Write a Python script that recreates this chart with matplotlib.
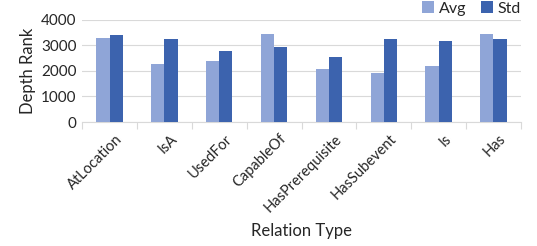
import matplotlib.pyplot as plt
import numpy as np

# Data
relations = ['AtLocation', 'IsA', 'UsedFor', 'CapableOf', 'HasPrerequisite',
             'HasSubevent', 'Is', 'Has']
avg = [3280, 2290, 2395, 3440, 2080, 1910, 2210, 3440]
std = [3400, 3240, 2770, 2955, 2550, 3240, 3175, 3240]

plt.rcParams['font.family'] = ['Lato', 'DejaVu Sans']

fig = plt.figure(figsize=(5.37, 2.46), dpi=100)
ax = fig.add_axes([0.153, 0.504, 0.817, 0.415])

x = np.arange(len(relations))
w = 0.24
ax.bar(x - w / 2, avg, w, color='#8FA5D7', label='Avg', zorder=3)
ax.bar(x + w / 2, std, w, color='#3C63AE', label='Std', zorder=3)

ax.set_xlim(-0.5, len(relations) - 0.5)
ax.set_ylim(0, 4000)
ax.set_yticks([0, 1000, 2000, 3000, 4000])
ax.tick_params(axis='y', length=0, labelsize=11, colors='#262626', pad=4)
ax.yaxis.grid(True, color='#d9d9d9', linewidth=0.8, zorder=0)

# category labels, tick marks between categories
ax.set_xticks(x + 0.1)
ax.set_xticklabels(relations, rotation=45, ha='right', rotation_mode='anchor',
                   fontsize=10.5, color='#262626')
ax.tick_params(axis='x', which='major', length=0, pad=7)
ax.set_xticks(np.arange(-0.5, len(relations)), minor=True)
ax.tick_params(axis='x', which='minor', length=5, color='#d9d9d9', width=0.8)

for s in ['top', 'right', 'left']:
    ax.spines[s].set_visible(False)
ax.spines['bottom'].set_color('#d9d9d9')

ax.set_ylabel('Depth Rank', fontsize=12, color='#262626', labelpad=4)
ax.set_xlabel('Relation Type', fontsize=12, color='#262626', labelpad=6)

ax.legend(loc='lower right', bbox_to_anchor=(1.025, 0.93), ncol=2, frameon=False,
          fontsize=11.5, handlelength=0.75, handleheight=0.75, handletextpad=0.3,
          columnspacing=0.9, labelcolor='#262626', borderpad=0.2)

fig.savefig('out.png', dpi=100)
